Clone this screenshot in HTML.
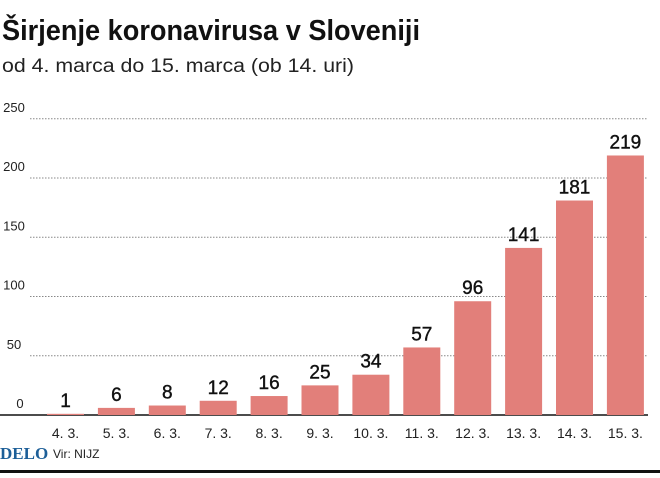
<!DOCTYPE html>
<html><head><meta charset="utf-8"><style>
body{margin:0;background:#fff;width:660px;height:473px;overflow:hidden;font-family:"Liberation Sans","DejaVu Sans",sans-serif}
</style></head><body>
<svg width="660" height="473" xmlns="http://www.w3.org/2000/svg">
<text x="2" y="40" font-size="29" font-weight="bold" fill="#111" textLength="418" lengthAdjust="spacingAndGlyphs">Širjenje koronavirusa v Sloveniji</text>
<text x="2" y="72" font-size="19" fill="#222" textLength="352" lengthAdjust="spacingAndGlyphs">od 4. marca do 15. marca (ob 14. uri)</text>
<g id="grid"></g><g id="bars"></g>
<rect x="0" y="470" width="660" height="3" fill="#111"/>
<text x="0" y="459" font-size="17" font-weight="bold" font-family="Liberation Serif,serif" fill="#1d5f98">DELO</text>
<text x="53" y="458" font-size="12" fill="#222">Vir: NIJZ</text>
</svg>
<script>
const categories=["4. 3.","5. 3.","6. 3.","7. 3.","8. 3.","9. 3.","10. 3.","11. 3.","12. 3.","13. 3.","14. 3.","15. 3."];
const values=[1,6,8,12,16,25,34,57,96,141,181,219];
const ticks=[0,50,100,150,200,250];
const NS="http://www.w3.org/2000/svg";
const y=v=>415-v*1.185;
const x=i=>47+i*50.9;
const bw=37;
const g=document.getElementById('grid'),b=document.getElementById('bars');
function mk(tag,attrs,parent,txt){const e=document.createElementNS(NS,tag);for(const k in attrs)e.setAttribute(k,attrs[k]);if(txt!==undefined)e.textContent=txt;parent.appendChild(e);return e;}
ticks.forEach(t=>{
 if(t>0){const l=mk('line',{x1:30,x2:648,y1:y(t),y2:y(t),stroke:'#888','stroke-width':1,'stroke-dasharray':'1.5,1.5'},g);
 
 }
 const tx=mk('text',{x:t===0?20:14,y:y(t)-7,'font-size':13,'text-anchor':'middle',fill:'#222'},g,String(t));
 
 
});
const base=mk('line',{x1:0,x2:648,y1:415,y2:415,stroke:'#111','stroke-width':1.5},g);


values.forEach((v,i)=>{
 const r=mk('rect',{x:x(i),y:y(v),width:bw,height:415-y(v),fill:'#e27f7a'},b);
 
 
 const lb=mk('text',{x:x(i)+bw/2,y:y(v)-7,'font-size':19,'text-anchor':'middle',fill:'#111','stroke':'#111','stroke-width':0.4},b,String(v));
 
 
 const cl=mk('text',{x:x(i)+bw/2,y:438,'font-size':14,'text-anchor':'middle',fill:'#222'},b,categories[i]);
 
 
});
</script>
</body></html>
